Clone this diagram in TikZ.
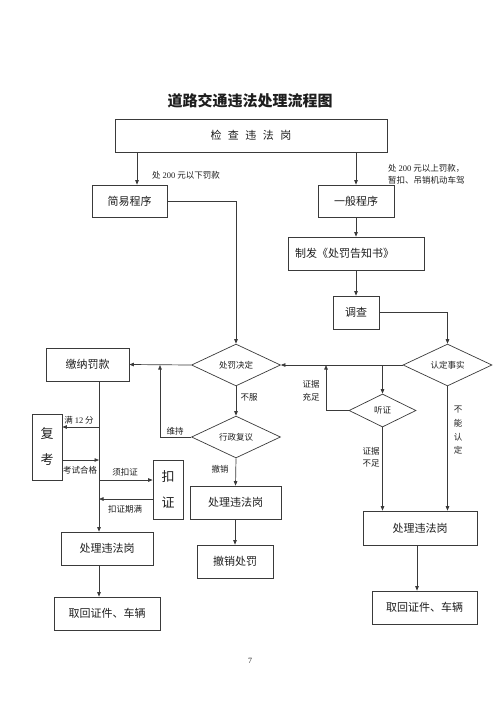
\documentclass[tikz,border=0pt]{standalone}
\usepackage{fontspec}
\setmainfont{Noto Sans CJK SC}
\newfontfamily\lat{Liberation Serif}
\usetikzlibrary{shapes.geometric,arrows.meta}
\definecolor{ln}{HTML}{3A3A3A}
\definecolor{tx}{HTML}{1E1E1E}
\tikzset{
  box/.style={draw=ln,line width=0.7pt,rectangle,inner sep=0pt,text=tx,font=\fontsize{11}{13}\selectfont},
  dia/.style={draw=ln,line width=0.7pt,diamond,inner sep=0pt,text=tx,font=\fontsize{8.5}{10}\selectfont},
  lab/.style={inner sep=0pt,text=tx,font=\fontsize{8.5}{10}\selectfont},
  conn/.style={draw=ln,line width=0.7pt},
  arr/.style={conn,-{Triangle[length=4.5pt,width=3.5pt]}}
}
\begin{document}
\begin{tikzpicture}[x=1pt,y=-1pt]
\useasboundingbox (0,0) rectangle (500,707);
% title
\node[inner sep=0pt,text=tx,font=\fontsize{15}{17}\selectfont\bfseries] (title) at (250,101) {道路交通违法处理流程图};
% boxes
\node[box,minimum width=272pt,minimum height=33pt] (top) at (251,135.5) {检\hspace{6.5pt}查\hspace{6.5pt}违\hspace{6.5pt}法\hspace{6.5pt}岗};
\node[box,minimum width=75pt,minimum height=32pt] (jy) at (129.5,201) {简易程序};
\node[box,minimum width=76pt,minimum height=32pt] (yb) at (356,201) {一般程序};
\node[box,minimum width=136pt,minimum height=33pt,text width=122pt,align=left,inner xsep=7pt] (zf) at (356,253.5) {制发《处罚告知书》};
\node[box,minimum width=46pt,minimum height=33pt] (dc) at (356,312.5) {调查};
\node[box,minimum width=83pt,minimum height=33pt] (jn) at (87.5,364.5) {缴纳罚款};
\node[dia,minimum width=89pt,minimum height=32pt] (cf) at (236,365) {处罚决定};
\node[dia,minimum width=89pt,minimum height=32pt] (rd) at (447.5,365) {认定事实};
\node[dia,minimum width=67pt,minimum height=33pt] (tz) at (382.5,410.5) {听证};
\node[dia,minimum width=89pt,minimum height=32pt] (xz) at (236,437) {行政复议};
\node[box,minimum width=30pt,minimum height=66pt,align=center,font=\fontsize{13}{26}\selectfont] (fk) at (47,447) {复\\考};
\node[box,minimum width=30pt,minimum height=59pt,align=center,font=\fontsize{13}{26}\selectfont] (kz) at (168,489.5) {扣\\证};
\node[box,minimum width=91pt,minimum height=33pt] (clm) at (235.5,502.5) {处理违法岗};
\node[box,minimum width=76pt,minimum height=33pt] (cx) at (235,561.5) {撤销处罚};
\node[box,minimum width=92pt,minimum height=33pt] (cll) at (107,548.5) {处理违法岗};
\node[box,minimum width=106pt,minimum height=33pt] (qhl) at (107,613.5) {取回证件、车辆};
\node[box,minimum width=114pt,minimum height=34pt] (clr) at (420,528) {处理违法岗};
\node[box,minimum width=105pt,minimum height=33pt] (qhr) at (424.5,607.5) {取回证件、车辆};
% helper coordinates
\coordinate (xl) at (137,0);
\coordinate (xm) at (99,0);
\coordinate (xr) at (417,0);
\coordinate (jv) at (160,0);
\coordinate (tv) at (326,0);
\coordinate (y1) at (0,427);
\coordinate (y2) at (0,460);
\coordinate (y3) at (0,480);
\coordinate (y4) at (0,499);
% connectors
\draw[arr] (top.south -| xl) -- (jy.north -| xl);
\draw[arr] (top.south -| yb.north) -- (yb.north);
\draw[arr] (jy.east) -- (cf.north |- jy.east) -- (cf.north);
\draw[arr] (yb.south) -- (zf.north -| yb.south);
\draw[arr] (zf.south -| dc.north) -- (dc.north);
\draw[arr] (dc.east) -- (rd.north |- dc.east) -- (rd.north);
\draw[arr] (rd.west) -- (cf.east);
\draw[arr] (tz.north |- rd.west) -- (tz.north);
\draw[arr] (tz.west) -- (tz.west -| tv) -- (tv |- rd.west);
\draw[arr] (tz.south) -- (tz.south |- clr.north);
\draw[arr] (rd.south) -- (rd.south |- clr.north);
\draw[arr] (clr.south -| xr) -- (qhr.north -| xr);
\draw[arr] (cf.west) -- (jn.east);
\draw[arr] (cf.south) -- (xz.north);
\draw[arr] (xz.west) -- (xz.west -| jv) -- (jv |- cf.west);
\draw[arr] (xz.south) -- (clm.north);
\draw[arr] (clm.south -| cx.north) -- (cx.north);
\draw[arr] (jn.south -| xm) -- (cll.north -| xm);
\draw[arr] (xm |- y1) -- (fk.east |- y1);
\draw[arr] (fk.east |- y2) -- (xm |- y2);
\draw[arr] (xm |- y3) -- (kz.west |- y3);
\draw[arr] (kz.west |- y4) -- (xm |- y4);
\draw[arr] (cll.south -| xm) -- (qhl.north -| xm);
% labels
\node[lab] (l1) at (186,175) {处 {\lat 200} 元以下罚款};
\node[lab,anchor=west,align=left,font=\fontsize{8.5}{11.5}\selectfont] (l2) at (388,174.5) {处 {\lat 200} 元以上罚款，\\暂扣、吊销机动车驾};
\node[lab] (l3) at (249,397) {不服};
\node[lab] (l4) at (175,431) {维持};
\node[lab] (l5) at (220,469) {撤销};
\node[lab,align=center,font=\fontsize{8.5}{13}\selectfont] (l6) at (311,390.5) {证据\\充足};
\node[lab,align=center,font=\fontsize{8.5}{12}\selectfont] (l7) at (371,457) {证据\\不足};
\node[lab,align=center,font=\fontsize{8.5}{13.7}\selectfont] (l8) at (458,430.5) {不\\能\\认\\定};
\node[lab] (l9) at (79,420) {满 {\lat 12} 分};
\node[lab] (l10) at (80,470) {考试合格};
\node[lab] (l11) at (125,472) {须扣证};
\node[lab] (l12) at (125,509) {扣证期满};
\node[lab,font=\lat\fontsize{8}{9}\selectfont] (pg) at (250,661) {7};
\end{tikzpicture}
\end{document}
